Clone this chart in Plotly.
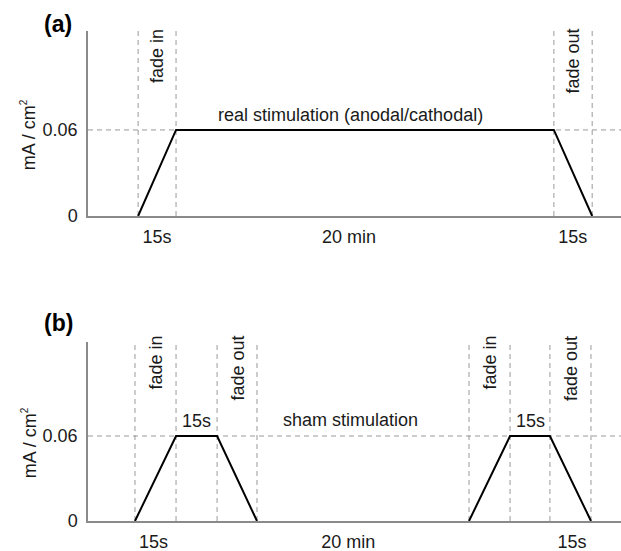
import plotly.graph_objects as go

# ---------------- data (schematic time units, current density mA/cm2) -------------
t_a = [1.27, 2.23, 11.80, 12.77]
i_a = [0, 0.06, 0.06, 0]

t_b = [1.19, 2.23, 3.27, 4.28, None, 9.65, 10.69, 11.70, 12.74]
i_b = [0, 0.06, 0.06, 0, None, 0, 0.06, 0.06, 0]

target_level = 0.06

phase_ticks_a = [1.75, 6.61, 12.28]
phase_ticks_b = [1.66, 6.59, 12.26]
phase_labels = ["15s", "20 min", "15s"]

y_ticks = [0, 0.06]
y_labels = ["0", "0.06"]

fade_a = [("fade in", 0, 1), ("fade out", 2, 3)]      # label, index of start, end in t_a
fade_b = [("fade in", 0, 1), ("fade out", 2, 3), ("fade in", 5, 6), ("fade out", 7, 8)]
plateau_b = [(1, 2), (6, 7)]

title_a = "real stimulation (anodal/cathodal)"
title_b = "sham stimulation"

# ---------------- styling ----------------
FONT = "Liberation Sans, Arial, sans-serif"
TXT = "#1a1a1a"
AXC = "#8a8a8a"
DASHC = "#9a9a9a"
DASH = "5px,4px"

fig = go.Figure()
fig.add_trace(go.Scatter(x=t_a, y=i_a, mode="lines", line=dict(color="black", width=2),
                         xaxis="x", yaxis="y", showlegend=False, hoverinfo="skip"))
fig.add_trace(go.Scatter(x=t_b, y=i_b, mode="lines", line=dict(color="black", width=2),
                         xaxis="x2", yaxis="y2", showlegend=False, hoverinfo="skip", connectgaps=False))

shapes = []
annotations = []

def add_panel(ts, xr, yr, fades, letter, letter_y, title_y, fade_shift):
    pts = [t for t in ts if t is not None]
    for t in pts:
        shapes.append(dict(type="line", xref=xr, yref=yr + " domain", x0=t, x1=t, y0=0, y1=1,
                           line=dict(color=DASHC, width=1, dash=DASH), layer="below"))
    shapes.append(dict(type="line", xref=xr + " domain", yref=yr, x0=0, x1=1,
                       y0=target_level, y1=target_level,
                       line=dict(color=DASHC, width=1, dash=DASH), layer="below"))
    for label, a, b in fades:
        annotations.append(dict(text=label, x=(ts[a] + ts[b]) / 2, xref=xr,
                                y=1, yref=yr + " domain", yanchor="top", xanchor="center",
                                textangle=-90, showarrow=False, yshift=fade_shift,
                                font=dict(family=FONT, size=18, color=TXT)))
    annotations.append(dict(text=letter, x=0.0934, y=letter_y, xref="paper", yref="paper",
                            xanchor="center", yanchor="middle", showarrow=False,
                            font=dict(family=FONT, size=23, color="black", weight="bold")))
    annotations.append(dict(text="mA / cm<sup><span style='font-size:10px'>2</span></sup>",
                            x=0.047, y=title_y, xref="paper", yref="paper",
                            xanchor="center", yanchor="middle", textangle=-90, showarrow=False,
                            font=dict(family=FONT, size=18, color=TXT)))

add_panel(t_a, "x", "y", fade_a, "(a)", 0.9564, 0.755, 4)
add_panel(t_b, "x2", "y2", fade_b, "(b)", 0.4129, 0.196, 8)

annotations.append(dict(text=title_a, x=6.64, xref="x", y=target_level, yref="y",
                        yanchor="bottom", xanchor="center", showarrow=False, yshift=3,
                        font=dict(family=FONT, size=18, color=TXT)))
annotations.append(dict(text=title_b, x=6.64, xref="x2", y=target_level, yref="y2",
                        yanchor="bottom", xanchor="center", showarrow=False, yshift=4,
                        font=dict(family=FONT, size=18, color=TXT)))
for a, b in plateau_b:
    annotations.append(dict(text="15s", x=(t_b[a] + t_b[b]) / 2, xref="x2", y=target_level, yref="y2",
                            yanchor="bottom", xanchor="center", showarrow=False, yshift=3,
                            font=dict(family=FONT, size=18, color=TXT)))

xcommon = dict(range=[0, 13.5], domain=[88 / 621, 1], showgrid=False, zeroline=False,
               showline=True, linecolor=AXC, linewidth=1.5, ticks="", automargin=False,
               ticklabelstandoff=4,
               tickfont=dict(family=FONT, size=18, color=TXT), ticktext=phase_labels)
ycommon = dict(showgrid=False, zeroline=False, showline=True, linecolor=AXC, linewidth=1.5,
               ticks="", automargin=False, tickvals=y_ticks, ticktext=y_labels,
               ticklabelstandoff=5,
               tickfont=dict(family=FONT, size=18, color=TXT))

fig.update_layout(
    width=621, height=551,
    margin=dict(l=0, r=0, t=0, b=0),
    paper_bgcolor="white", plot_bgcolor="white",
    xaxis=dict(**xcommon, anchor="y", tickvals=phase_ticks_a),
    yaxis=dict(**ycommon, anchor="x", range=[0, 0.129], domain=[1 - 216 / 551, 1 - 31 / 551]),
    xaxis2=dict(**xcommon, anchor="y2", tickvals=phase_ticks_b),
    yaxis2=dict(**ycommon, anchor="x2", range=[0, 0.1264], domain=[1 - 521 / 551, 1 - 342 / 551]),
    shapes=shapes,
    annotations=annotations,
    showlegend=False,
)

fig.write_html("out.html", config={"displayModeBar": False},
               post_script="document.body.style.margin='0';document.body.style.overflow='hidden';")
